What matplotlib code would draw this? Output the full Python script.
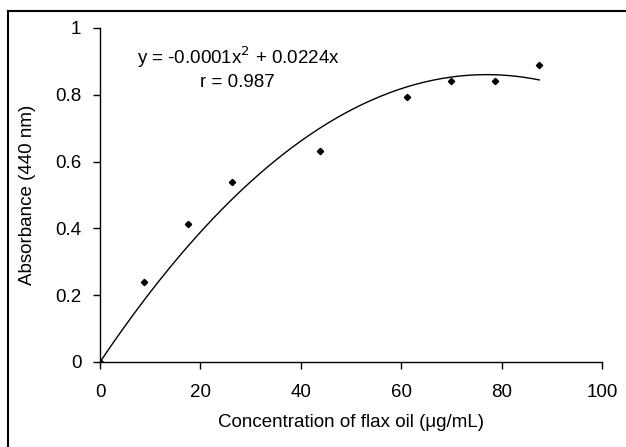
import numpy as np
import matplotlib
matplotlib.use('Agg')
import matplotlib.pyplot as plt
from matplotlib.lines import Line2D

plt.rcParams['font.family'] = ['Liberation Sans', 'DejaVu Sans']

# data
conc = [0, 8.75, 17.5, 26.25, 43.75, 61.25, 70.0, 78.75, 87.5]
absorb = [0.0, 0.24, 0.413, 0.539, 0.632, 0.794, 0.842, 0.842, 0.890]

x = np.array(conc)
y = np.array(absorb)

# polynomial trendline, order 2, intercept fixed at 0 (as Excel does)
A = np.vstack([x**2, x]).T
coef, *_ = np.linalg.lstsq(A, y, rcond=None)
xf = np.linspace(0, x.max(), 200)
yf = coef[0]*xf**2 + coef[1]*xf

W, H = 626, 447
fs = 13.5
fig = plt.figure(figsize=(W/100, H/100), dpi=100)
ax = fig.add_axes([100/W, 1-362/H, (602-100)/W, (362-28)/H])

ax.plot(xf, yf, color='black', lw=1.0)
ax.plot(x, y, linestyle='none', marker='D', ms=3.2, color='black')

ax.set_xlim(0, 100)
ax.set_ylim(0, 1)
ax.set_xticks([0, 20, 40, 60, 80, 100])
ax.set_yticks([0, 0.2, 0.4, 0.6, 0.8, 1])
ax.set_yticklabels(['0', '0.2', '0.4', '0.6', '0.8', '1'])
ax.tick_params(direction='out', length=5, width=1, labelsize=fs)
ax.tick_params(axis='x', pad=11)
ax.tick_params(axis='y', pad=8.5)
for s in ['top', 'right']:
    ax.spines[s].set_visible(False)
for s in ['left', 'bottom']:
    ax.spines[s].set_linewidth(1)

ax.set_xlabel('Concentration of flax oil (\u03bcg/mL)', fontsize=fs, labelpad=9)
ax.set_ylabel('Absorbance (440 nm)', fontsize=fs, labelpad=14)

ax.text(27.5, 0.913, 'y = -0.0001x$^2$ + 0.0224x', fontsize=fs, ha='center', va='center')
ax.text(27.4, 0.838, 'r = 0.987', fontsize=fs, ha='center', va='center')

# outer border: only top and left visible in reference
fig.add_artist(Line2D([8/W, 8/W], [0, 1-11/H], color='black', lw=1.5, transform=fig.transFigure))
fig.add_artist(Line2D([8/W, 1], [1-11/H, 1-11/H], color='black', lw=1.5, transform=fig.transFigure))

fig.savefig('out.png', dpi=100)
